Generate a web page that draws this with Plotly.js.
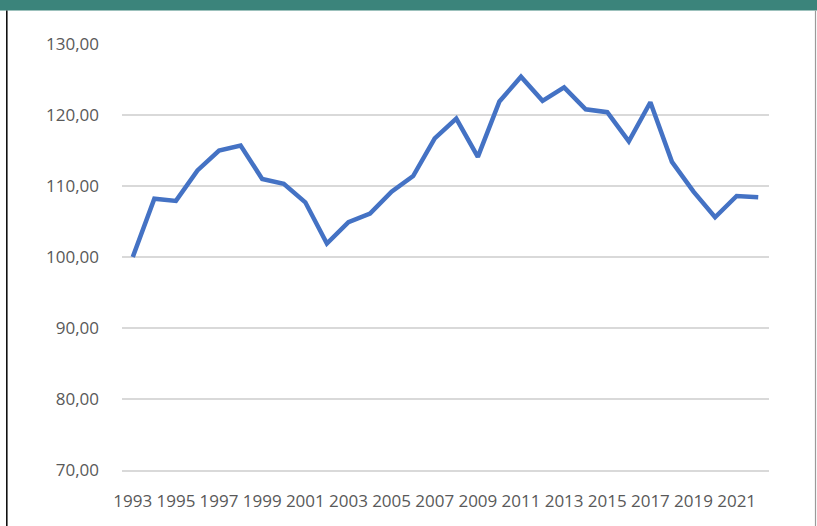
<!DOCTYPE html>
<html>
<head>
<meta charset="utf-8">
<script src="https://cdn.plot.ly/plotly-3.0.1.min.js"></script>
<style>
html,body{margin:0;padding:0;background:#fff;}
#chart{width:817px;height:526px;}
</style>
</head>
<body>
<div id="chart"></div>
<script>
const years = [1993,1994,1995,1996,1997,1998,1999,2000,2001,2002,2003,2004,2005,2006,2007,2008,2009,2010,2011,2012,2013,2014,2015,2016,2017,2018,2019,2020,2021,2022];
const values = [100.0,108.2,107.9,112.2,115.0,115.7,111.0,110.3,107.7,101.9,104.9,106.1,109.2,111.4,116.7,119.5,114.1,121.9,125.4,122.0,123.9,120.8,120.4,116.3,121.8,113.4,109.2,105.6,108.6,108.4];
const xTickYears = [1993,1995,1997,1999,2001,2003,2005,2007,2009,2011,2013,2015,2017,2019,2021];
const yTicks = [70,80,90,100,110,120,130];

const W = 817, H = 526;
const M = {l:122, r:48, t:44, b:56};
const pw = W - M.l - M.r, ph = H - M.t - M.b;
function px2x(p){ return (p - M.l)/pw; }
function py2y(p){ return 1 - (p - M.t)/ph; }

const trace = {
  x: years, y: values, type:'scatter', mode:'lines',
  line:{color:'#4472C4', width:4.5, shape:'linear'},
  hoverinfo:'skip'
};

const layout = {
  width: W, height: H,
  margin: M,
  paper_bgcolor:'#ffffff', plot_bgcolor:'#ffffff',
  separators: ', ',
  showlegend:false,
  font:{family:'"Open Sans", sans-serif', size:17, color:'#595959'},
  xaxis:{
    range:[1992.5, 2022.5], tickmode:'array', tickvals:xTickYears,
    ticktext: xTickYears.map(String),
    showgrid:false, zeroline:false, showline:true, linecolor:'#d9d9d9', linewidth:1.5, ticks:'',
    ticklabelstandoff: 15, fixedrange:true
  },
  yaxis:{
    range:[70,130], tickmode:'array', tickvals:yTicks,
    tickformat:'.2f', showgrid:true, gridcolor:'#d9d9d9', gridwidth:1.5,
    zeroline:false, showline:false, ticks:'',
    ticklabelstandoff: 22, fixedrange:true
  },
  shapes:[
    {type:'rect', xref:'paper', yref:'paper', x0:px2x(0), x1:px2x(W), y0:py2y(10.5), y1:py2y(0),
     fillcolor:'#3b847b', line:{width:0}, layer:'above'},
    {type:'line', xref:'paper', yref:'paper', x0:px2x(6.8), x1:px2x(6.8), y0:py2y(H), y1:py2y(10.5),
     line:{color:'#111111', width:1.6}},
    {type:'line', xref:'paper', yref:'paper', x0:px2x(815.5), x1:px2x(815.5), y0:py2y(H), y1:py2y(10.5),
     line:{color:'#9a9a9a', width:1.2}}
  ]
};

Plotly.newPlot('chart', [trace], layout, {staticPlot:true, displayModeBar:false});
</script>
</body>
</html>
